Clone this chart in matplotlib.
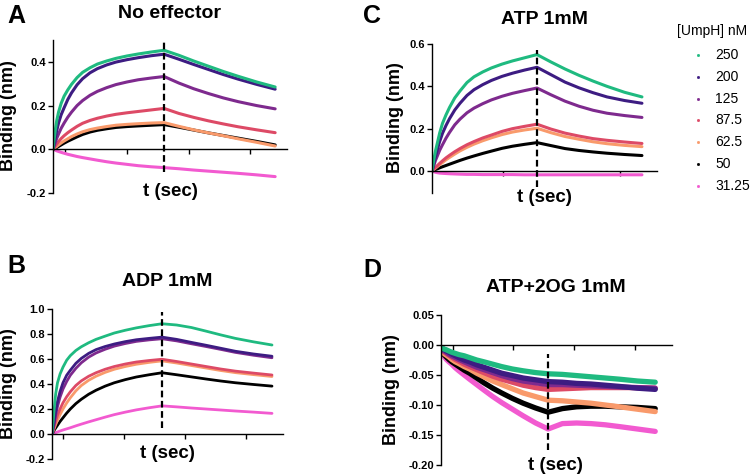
import matplotlib
matplotlib.use("Agg")
import matplotlib.pyplot as plt
from matplotlib.lines import Line2D

plt.rcParams['font.family'] = ['Liberation Sans', 'DejaVu Sans']

# ---------------- data ----------------
t_sec = [0, 3, 6, 10, 15, 22, 30, 40, 50, 65, 80, 100, 120, 145, 170, 200, 230, 265, 300,
         340, 380, 420, 460, 500, 550, 600]
conc_labels = ["250", "200", "125", "87.5", "62.5", "50", "31.25"]
colors = ["#1fba80", "#3d1c82", "#7e2a8e", "#dd4a66", "#f99a6b", "#000000", "#f25ad0"]
legend_title = "[UmpH] nM"

# Panel A: No effector
noeff_250 = [0, .045, .085, .13, .17, .21, .243, .272, .297, .328, .352, .373, .39, .404, .416, .427, .436, .445, .453,
             .43, .404, .38, .356, .334, .308, .285]
noeff_200 = [0, .025, .05, .085, .12, .158, .19, .228, .258, .295, .323, .35, .369, .386, .399, .41, .419, .428, .435,
             .412, .388, .365, .342, .321, .297, .275]
noeff_125 = [0, .015, .03, .05, .07, .096, .12, .147, .17, .2, .223, .247, .265, .282, .296, .308, .318, .326, .333,
             .303, .277, .255, .235, .218, .2, .185]
noeff_87 = [0, .007, .015, .024, .035, .049, .062, .076, .088, .105, .119, .132, .142, .152, .16, .167, .173, .18, .187,
            .164, .146, .13, .116, .103, .089, .076]
noeff_62 = [0, .004, .008, .013, .02, .029, .038, .048, .058, .07, .08, .09, .097, .104, .11, .114, .117, .12, .122,
            .105, .089, .075, .062, .048, .032, .015]
noeff_50 = [0, .002, .005, .008, .013, .02, .028, .037, .045, .057, .068, .079, .087, .094, .1, .104, .107, .11, .113,
            .101, .088, .075, .063, .051, .036, .02]
noeff_31 = [0, -.002, -.004, -.007, -.01, -.014, -.018, -.023, -.027, -.033, -.038, -.044, -.05, -.057, -.063, -.069,
            -.075, -.08, -.084, -.089, -.095, -.1, -.105, -.11, -.117, -.125]

# Panel B: ADP 1mM
adp_250 = [0, .1, .2, .32, .41, .48, .535, .59, .627, .668, .698, .73, .757, .783, .808, .83, .849, .867, .882,
           .872, .852, .823, .793, .765, .737, .712]
adp_200 = [0, .05, .1, .18, .26, .34, .41, .47, .51, .565, .605, .645, .675, .7, .72, .739, .754, .765, .775,
           .757, .733, .71, .686, .662, .64, .622]
adp_125 = [0, .04, .08, .15, .22, .295, .36, .42, .47, .525, .57, .615, .648, .678, .703, .724, .741, .753, .762,
           .745, .722, .7, .677, .653, .63, .61]
adp_87 = [0, .03, .06, .1, .15, .2, .25, .298, .338, .388, .425, .462, .49, .518, .54, .56, .576, .588, .598,
          .58, .56, .54, .52, .503, .487, .472]
adp_62 = [0, .022, .045, .075, .11, .155, .2, .248, .29, .345, .388, .43, .462, .493, .518, .54, .558, .573, .585,
          .568, .548, .528, .508, .491, .475, .46]
adp_50 = [0, .015, .03, .048, .07, .1, .13, .167, .2, .243, .278, .318, .35, .383, .41, .435, .456, .474, .49,
          .474, .457, .44, .424, .41, .396, .383]
adp_31 = [0, .003, .006, .011, .016, .024, .032, .041, .05, .065, .079, .097, .114, .135, .155, .175, .193, .21, .225,
          .217, .208, .2, .192, .184, .175, .165]

# Panel C: ATP 1mM
atp_250 = [0, .03, .06, .095, .13, .18, .225, .265, .3, .345, .378, .418, .445, .468, .487, .505, .52, .535, .55,
           .515, .482, .452, .425, .4, .372, .35]
atp_200 = [0, .02, .04, .068, .1, .14, .178, .215, .247, .288, .32, .357, .384, .408, .428, .447, .462, .477, .49,
           .455, .42, .393, .37, .35, .333, .32]
atp_125 = [0, .015, .03, .05, .07, .098, .124, .155, .182, .218, .245, .275, .297, .318, .336, .353, .367, .38, .392,
           .36, .33, .306, .287, .273, .262, .253]
atp_87 = [0, .005, .01, .017, .025, .036, .048, .062, .074, .091, .106, .124, .139, .156, .17, .187, .2, .211, .221,
          .198, .179, .165, .153, .145, .137, .13]
atp_62 = [0, .004, .008, .014, .02, .03, .04, .053, .064, .08, .095, .112, .127, .143, .157, .172, .184, .194, .202,
          .181, .163, .15, .138, .129, .121, .115]
atp_50 = [0, .002, .004, .007, .01, .015, .02, .026, .032, .041, .05, .061, .071, .083, .094, .107, .117, .126, .134,
          .12, .106, .097, .09, .084, .078, .073]
atp_31 = [0, -.002, -.004, -.006, -.008, -.01, -.011, -.012, -.013, -.014, -.015, -.016, -.016, -.017, -.017, -.017,
          -.017, -.018, -.018, -.018, -.018, -.018, -.018, -.018, -.018, -.018]

# Panel D: ATP+2OG 1mM
atpog_250 = [-.004, -.005, -.006, -.007, -.008, -.01, -.012, -.014, -.016, -.018, -.021, -.025, -.028, -.032, -.036,
             -.04, -.043, -.046, -.048, -.049, -.051, -.053, -.055, -.057, -.06, -.062]
atpog_200 = [-.004, -.005, -.007, -.008, -.01, -.012, -.015, -.018, -.021, -.025, -.028, -.033, -.037, -.042, -.047,
             -.051, -.055, -.058, -.061, -.062, -.064, -.065, -.067, -.069, -.072, -.074]
atpog_125 = [-.006, -.007, -.009, -.01, -.012, -.015, -.018, -.021, -.024, -.028, -.032, -.037, -.041, -.046, -.051,
             -.056, -.06, -.063, -.066, -.066, -.067, -.068, -.069, -.07, -.071, -.072]
atpog_87 = [-.007, -.008, -.01, -.012, -.014, -.017, -.02, -.024, -.027, -.032, -.036, -.041, -.046, -.052, -.057,
            -.062, -.067, -.071, -.074, -.073, -.072, -.071, -.071, -.071, -.071, -.072]
atpog_62 = [-.01, -.011, -.013, -.015, -.017, -.02, -.024, -.028, -.031, -.036, -.04, -.047, -.053, -.06, -.066,
            -.073, -.08, -.086, -.092, -.093, -.095, -.097, -.1, -.103, -.107, -.111]
atpog_50 = [-.01, -.012, -.014, -.017, -.02, -.024, -.028, -.032, -.036, -.042, -.047, -.055, -.063, -.072, -.08,
            -.089, -.097, -.105, -.112, -.106, -.103, -.102, -.102, -.103, -.104, -.106]
atpog_31 = [-.012, -.014, -.017, -.02, -.024, -.028, -.032, -.038, -.043, -.05, -.057, -.066, -.075, -.086, -.096,
            -.107, -.118, -.13, -.14, -.131, -.13, -.131, -.133, -.136, -.14, -.144]

titles = ["No effector", "ADP 1mM", "ATP 1mM", "ATP+2OG 1mM"]
letters = ["A", "B", "C", "D"]
yticks_A = [-0.2, 0.0, 0.2, 0.4]
yticks_B = [-0.2, 0.0, 0.2, 0.4, 0.6, 0.8, 1.0]
yticks_C = [0.0, 0.2, 0.4, 0.6]
yticks_D = [-0.20, -0.15, -0.10, -0.05, 0.00, 0.05]
switch_time = 300

# ---------------- layout ----------------
W, H = 750, 475
fig = plt.figure(figsize=(7.5, 4.75), dpi=100)


def fx(px):
    return px / W


def fy(py):
    return 1 - py / H


def make_ax(left, top, right, bottom):
    return fig.add_axes([fx(left), fy(bottom), (right - left) / W, (bottom - top) / H])


panels = [
    dict(box=(53, 40, 287, 193), xlim=(0, 632), ylim=(-0.2, 0.5), yticks=yticks_A, fmt="%.1f",
         xticks=[33, 200, 367, 533], series=[noeff_250, noeff_200, noeff_125, noeff_87, noeff_62, noeff_50, noeff_31],
         dash=(-0.105, 0.49), lw=2.2, title_xy=(170, 13), label_xy=(9, 116), xlab_xy=(170, 191), letter_xy=(16, 16)),
    dict(box=(52, 309, 283, 459), xlim=(0, 630), ylim=(-0.2, 1.0), yticks=yticks_B, fmt="%.1f",
         xticks=[30, 196, 362, 529], series=[adp_250, adp_200, adp_125, adp_87, adp_62, adp_50, adp_31],
         dash=(0.05, 0.98), lw=2.0, title_xy=(167, 282), label_xy=(9, 384), xlab_xy=(167, 453), letter_xy=(16, 266)),
    dict(box=(432, 44, 657, 193), xlim=(0, 643), ylim=(-0.104, 0.6), yticks=yticks_C, fmt="%.1f",
         xticks=[203, 537], series=[atp_250, atp_200, atp_125, atp_87, atp_62, atp_50, atp_31],
         dash=(-0.075, 0.57), lw=2.2, title_xy=(544, 19), label_xy=(396, 118), xlab_xy=(544, 198), letter_xy=(372, 16)),
    dict(box=(441, 315, 672, 465), xlim=(0, 647), ylim=(-0.2, 0.05), yticks=yticks_D, fmt="%.2f",
         xticks=[34, 202, 373, 543], series=[atpog_250, atpog_200, atpog_125, atpog_87, atpog_62, atpog_50, atpog_31],
         dash=(-0.175, -0.015), lw=3.8, title_xy=(556, 288), label_xy=(392, 390), xlab_xy=(555, 465), letter_xy=(372, 270)),
]

for p, ttl, let in zip(panels, titles, letters):
    ax = make_ax(*p["box"])
    # draw in ascending concentration order
    for vals, col in reversed(list(zip(p["series"], colors))):
        ax.plot(t_sec, vals, color=col, lw=p["lw"], solid_capstyle='round', solid_joinstyle='round', zorder=2)
    ax.plot([switch_time, switch_time], list(p["dash"]), color='black', lw=1.6,
            dashes=(3.0, 1.6), zorder=5)
    ax.set_xlim(*p["xlim"])
    ax.set_ylim(*p["ylim"])
    ax.set_yticks(p["yticks"])
    ax.set_yticklabels([p["fmt"] % v for v in p["yticks"]], fontweight='bold', fontsize=8)
    ax.set_xticks(p["xticks"])
    ax.set_xticklabels([])
    for s in ["top", "right"]:
        ax.spines[s].set_visible(False)
    ax.spines["bottom"].set_position(("data", 0))
    ax.spines["bottom"].set_linewidth(1.0)
    ax.spines["left"].set_linewidth(1.0)
    ax.tick_params(axis='both', direction='out', length=3.5, width=1.0, pad=1.5, colors='black')
    ax.set_facecolor('none')

    fig.text(fx(p["title_xy"][0]), fy(p["title_xy"][1]), ttl, ha='center', va='center',
             fontsize=14, fontweight='bold')
    fig.text(fx(p["label_xy"][0]), fy(p["label_xy"][1]), "Binding (nm)", ha='center', va='center',
             rotation=90, fontsize=13, fontweight='bold')
    fig.text(fx(p["xlab_xy"][0]), fy(p["xlab_xy"][1]), "t (sec)", ha='center', va='center',
             fontsize=13.5, fontweight='bold')
    fig.text(fx(p["letter_xy"][0]), fy(p["letter_xy"][1]), let, ha='center', va='center',
             fontsize=18, fontweight='bold')

# legend (manual)
fig.text(fx(712), fy(31), legend_title, ha='center', va='center', fontsize=10)
for i, (lab, col) in enumerate(zip(conc_labels, colors)):
    yy = 55 + i * 21.8
    fig.add_artist(Line2D([fx(698)], [fy(yy)], marker='s', markersize=1.0, color=col,
                          linestyle='none', transform=fig.transFigure))
    fig.text(fx(715), fy(yy), lab, ha='left', va='center', fontsize=10)

fig.savefig("out.png", dpi=100)
